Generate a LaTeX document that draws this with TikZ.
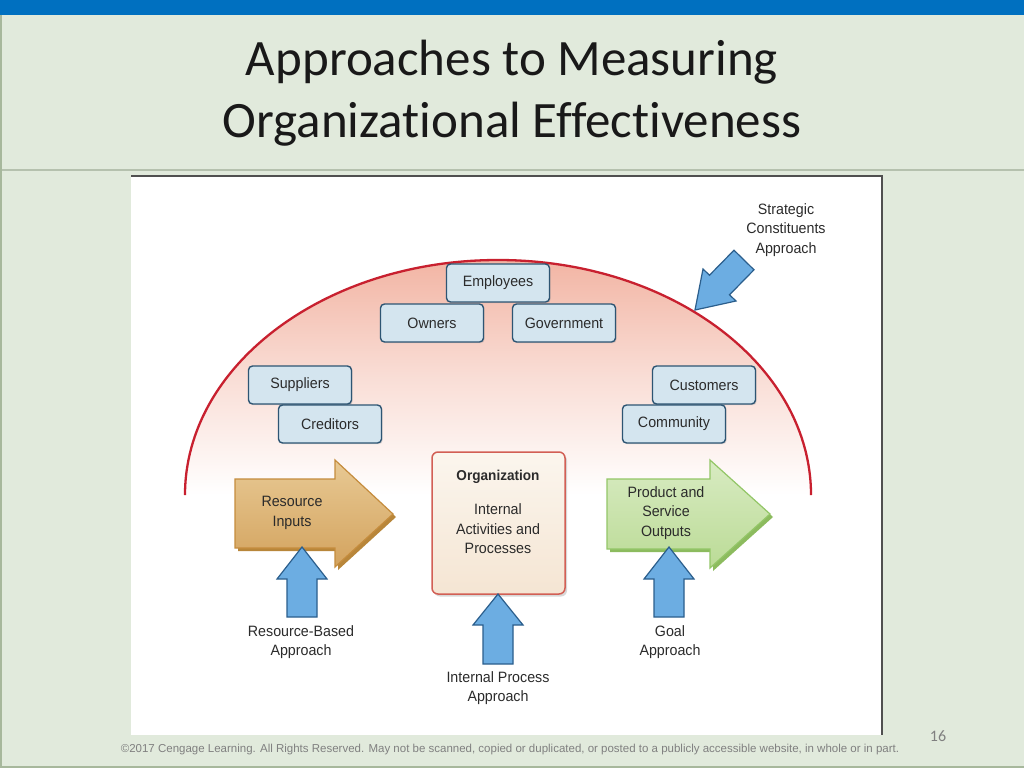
\documentclass[tikz,border=0pt]{standalone}
\usepackage{fontspec}
\setmainfont{Carlito}[Ligatures={NoCommon}]
\newfontfamily\dfont{Liberation Sans}[FakeStretch=0.95]
\newfontfamily\ffont{Liberation Sans}[FakeStretch=1.0]
\usetikzlibrary{shadows}
\definecolor{slidebg}{HTML}{E1EADC}
\definecolor{barblue}{HTML}{0070C0}
\definecolor{rulegray}{HTML}{B5C1AE}
\definecolor{edgegreen}{HTML}{A7B89C}
\definecolor{panelgray}{HTML}{505050}
\definecolor{domered}{HTML}{C8202F}
\definecolor{domefill}{HTML}{F2B5A4}
\definecolor{boxfill}{HTML}{D4E5EF}
\definecolor{boxborder}{HTML}{2D5573}
\definecolor{txt}{HTML}{2B2B2B}
\definecolor{arrblue}{HTML}{6CADE2}
\definecolor{arrblueline}{HTML}{2B5E8C}
\definecolor{orgline}{HTML}{D25F55}
\definecolor{orgtop}{HTML}{FBF6EE}
\definecolor{orgbot}{HTML}{F5E5D3}
\definecolor{tantop}{HTML}{E8C994}
\definecolor{tanbot}{HTML}{D3A35E}
\definecolor{tanline}{HTML}{C58C3D}
\definecolor{tanshadow}{HTML}{B8863A}
\definecolor{grntop}{HTML}{D8EBC2}
\definecolor{grnbot}{HTML}{BBDB96}
\definecolor{grnline}{HTML}{93C667}
\definecolor{grnshadow}{HTML}{8CBB5E}
\definecolor{footgray}{HTML}{808080}
\newcommand\blueuparrow[4]{%
  \draw[barrow] (#1,#2) -- (#1+25,#3) -- (#1+15,#3) -- (#1+15,#4) -- (#1-15,#4) -- (#1-15,#3) -- (#1-25,#3) -- cycle;}
\begin{document}
\begin{tikzpicture}[x=1pt,y=-1pt,
  sbox/.style={draw=boxborder, fill=boxfill, line width=1.4pt, rounded corners=4pt,
    minimum width=103pt, minimum height=38pt, inner sep=0pt, text=txt,
    font=\dfont\fontsize{15}{18}\selectfont,
    drop shadow={shadow xshift=1.2pt, shadow yshift=-1.2pt, opacity=0.25}},
  lbl/.style={inner sep=0pt, align=center, text=txt, font=\dfont\fontsize{15}{19.5}\selectfont},
  barrow/.style={draw=arrblueline, fill=arrblue, line width=1.2pt, line join=miter},
  ttl/.style={anchor=base, inner sep=0pt, text=black!90, font=\fontsize{51}{60}\selectfont}]
\useasboundingbox (0,0) rectangle (1024,768);
% slide
\fill[slidebg] (0,0) rectangle (1024,768);
\fill[barblue] (0,0) rectangle (1024,15);
\draw[rulegray, line width=1.2pt] (0,170) -- (1024,170);
\draw[edgegreen, line width=2pt] (1,15) -- (1,768);
\draw[edgegreen, line width=2pt] (0,767) -- (1024,767);
\node[ttl] (t1) at (512,75) {Approaches to Measuring};
\node[ttl] (t2) at (512,137) {Organizational Effectiveness};
% panel
\fill[white] (131,175) rectangle (882,735);
\draw[panelgray, line width=1.5pt] (131,176) -- (882,176) -- (882,735);
% dome
\path[top color=domefill, bottom color=white, middle color=domefill!45]
  (185,495) arc[start angle=180, end angle=0, x radius=313pt, y radius=235pt] -- cycle;
\draw[domered, line width=2.3pt]
  (185,495) arc[start angle=180, end angle=0, x radius=313pt, y radius=235pt];
% stakeholder boxes
\node[sbox] (own) at (432,323) {Owners};
\node[sbox] (gov) at (564,323) {Government};
\node[sbox] (emp) at (498,283) {Employees};
\node[sbox] (sup) at (300,385) {Suppliers};
\node[sbox] (cre) at (330,424) {Creditors};
\node[sbox] (cus) at (704,385) {Customers};
\node[sbox] (com) at (674,424) {Community};
% organization box
\node[draw=orgline, line width=1.5pt, rounded corners=6pt, top color=orgtop, bottom color=orgbot,
  minimum width=133pt, minimum height=142pt, inner sep=0pt,
  drop shadow={shadow xshift=2pt, shadow yshift=-2.5pt, opacity=0.3}] (org) at (498.5,523) {};
\node[lbl, font=\dfont\bfseries\fontsize{14.3}{18}\selectfont] (orgt) at (498,477) {Organization};
\node[lbl] (orgp) at (498,529) {Internal\\Activities and\\Processes};
% resource inputs arrow
\fill[tanshadow] (238,482) -- (338,482) -- (338,463) -- (396,517) -- (338,570) -- (338,551) -- (238,551) -- cycle;
\draw[tanline, line width=1.2pt, top color=tantop, bottom color=tanbot, line join=miter]
  (235,479) -- (335,479) -- (335,460) -- (393,514) -- (335,567) -- (335,548) -- (235,548) -- cycle;
\node[lbl] (res) at (292,513) {Resource\\Inputs};
% product and service outputs arrow
\fill[grnshadow] (610,482) -- (713,482) -- (713,463) -- (773,517) -- (713,571) -- (713,552) -- (610,552) -- cycle;
\draw[grnline, line width=1.2pt, top color=grntop, bottom color=grnbot, line join=miter]
  (607,479) -- (710,479) -- (710,460) -- (770,514) -- (710,568) -- (710,549) -- (607,549) -- cycle;
\node[lbl] (out) at (666,513) {Product and\\Service\\Outputs};
% blue approach arrows
\blueuparrow{302}{547}{579}{617}
\blueuparrow{498}{594}{625}{664}
\blueuparrow{669}{547}{579}{617}
\draw[barrow] (695,310) -- (736,301) -- (729.5,294.8) -- (754,269.8) -- (734,250.2) -- (709.5,275.2) -- (703,269) -- cycle;
% approach labels
\node[lbl] (sca) at (786,230) {Strategic\\Constituents\\Approach};
\node[lbl] (rba) at (301,642) {Resource-Based\\Approach};
\node[lbl] (ipa) at (498,688) {Internal Process\\Approach};
\node[lbl] (goa) at (670,642) {Goal\\Approach};
% footer
\node[anchor=base, inner sep=0pt, text=footgray, font=\ffont\fontsize{11.5}{13}\selectfont] (foot) at (510,752)
  {©2017 Cengage Learning. All Rights Reserved. May not be scanned, copied or duplicated, or posted to a publicly accessible website, in whole or in part.};
\node[anchor=base, inner sep=0pt, text=footgray, font=\fontsize{16}{18}\selectfont] (pg) at (938,741) {16};
\end{tikzpicture}
\end{document}
